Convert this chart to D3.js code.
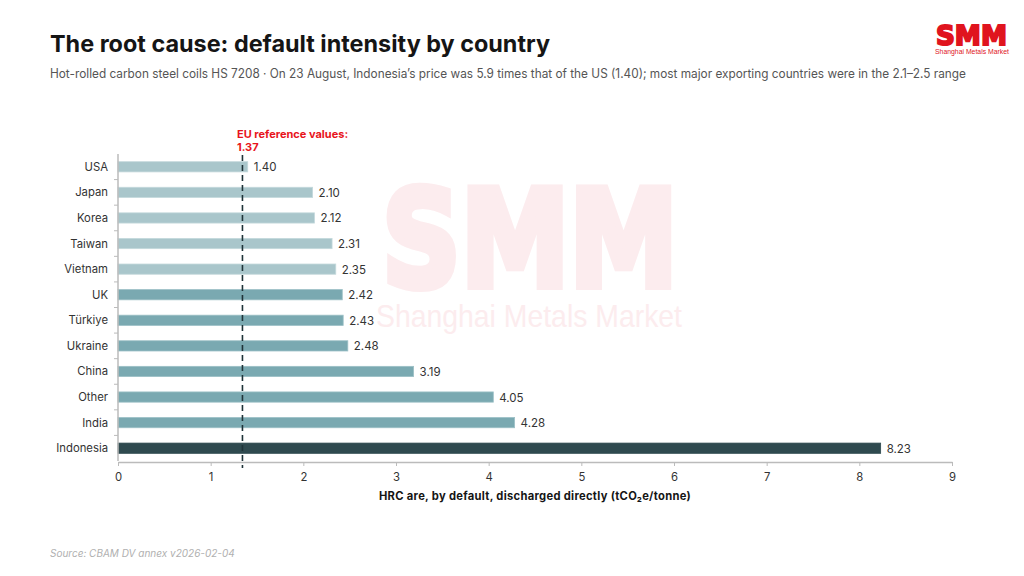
<!DOCTYPE html>
<html><head><meta charset="utf-8">
<script src="https://cdn.jsdelivr.net/npm/d3@7/dist/d3.min.js"></script>
<style>
html,body{margin:0;padding:0;background:#fff;}
svg{display:block;font-family:Inter,"Noto Sans",sans-serif;}
</style></head>
<body><svg id="c" width="1024" height="576"></svg>
<script>
const countries = ["USA","Japan","Korea","Taiwan","Vietnam","UK","Türkiye","Ukraine","China","Other","India","Indonesia"];
const values = [1.40,2.10,2.12,2.31,2.35,2.42,2.43,2.48,3.19,4.05,4.28,8.23];
const groups = ["light","light","light","light","light","mid","mid","mid","mid","mid","mid","dark"];
const xTicks = [0,1,2,3,4,5,6,7,8,9];
const refValue = 1.37;
const refLabel = ["EU reference values:", "1.37"];
const title = "The root cause: default intensity by country";
const subtitle = "Hot-rolled carbon steel coils HS 7208 · On 23 August, Indonesia’s price was 5.9 times that of the US (1.40); most major exporting countries were in the 2.1–2.5 range";
const xTitle = "HRC are, by default, discharged directly (tCO₂e/tonne)";
const source = "Source: CBAM DV annex v2026-02-04";

const colors = {light:"#a9c6cb", mid:"#7aa9b1", dark:"#2f4a4f"};
const strokes = {light:"#c4d9dc", mid:"#9cc0c6", dark:"#2f4a4f"};

const svg = d3.select("#c");

// watermark (one text element, two lines)
const wm = svg.append("text").attr("fill","#fcecee");
wm.append("tspan").attr("x",382).attr("y",286).attr("font-family","DejaVu Sans").attr("font-weight","bold")
  .attr("font-size",134).attr("textLength",296).attr("lengthAdjust","spacingAndGlyphs")
  .attr("stroke","#fcecee").attr("stroke-width",8).text("SMM");
wm.append("tspan").attr("x",376).attr("y",327).attr("font-family","Liberation Sans").attr("font-weight","normal")
  .attr("font-size",32).attr("textLength",306).attr("lengthAdjust","spacingAndGlyphs").attr("stroke","none").text("Shanghai Metals Market");

// title & subtitle
svg.append("text").attr("x",50).attr("y",52).attr("font-size",23.4).attr("font-weight",700).attr("fill","#151515").text(title);
svg.append("text").attr("x",50).attr("y",78).attr("font-size",12.5).attr("fill","#555").attr("textLength",916).attr("lengthAdjust","spacingAndGlyphs").text(subtitle);

// logo (one text element, two lines)
const logo = svg.append("text").attr("fill","#e0141e");
logo.append("tspan").attr("x",936).attr("y",45).attr("font-family","DejaVu Sans").attr("font-weight","bold")
  .attr("font-size",27).attr("textLength",71).attr("lengthAdjust","spacingAndGlyphs")
  .attr("stroke","#e0141e").attr("stroke-width",2).text("SMM");
logo.append("tspan").attr("x",935).attr("y",54).attr("font-family","Liberation Sans").attr("font-weight","normal")
  .attr("font-size",6.5).attr("textLength",74).attr("lengthAdjust","spacingAndGlyphs").attr("stroke","none").text("Shanghai Metals Market");

const x = d3.scaleLinear().domain([0,9]).range([118,952]);
const y = d3.scaleBand().domain(countries).range([154,461]).paddingInner(0.6).paddingOuter(0.3);

// bars
svg.append("g").selectAll("rect").data(countries).join("rect")
  .attr("x",x(0)).attr("y",(d)=>y(d)).attr("height",y.bandwidth())
  .attr("width",(d,i)=>x(values[i])-x(0))
  .attr("fill",(d,i)=>colors[groups[i]]).attr("stroke",(d,i)=>strokes[groups[i]]).attr("stroke-width",0.8);

// value labels
svg.append("g").selectAll("text").data(countries).join("text")
  .attr("x",(d,i)=>x(values[i])+6).attr("y",(d)=>y(d)+y.bandwidth()/2+4.5)
  .attr("font-size",11.5).attr("fill","#333").text((d,i)=>values[i].toFixed(2));

// y axis
const yBand = d3.scaleBand().domain(countries).range([154,461]);
const ya = svg.append("g").attr("transform",`translate(${x(0)},0)`);
ya.append("line").attr("x1",0).attr("x2",0).attr("y1",154).attr("y2",461).attr("stroke","#bbb").attr("stroke-width",1.5);
ya.selectAll("line.t").data(countries.slice(1)).join("line").attr("class","t")
  .attr("x1",-4).attr("x2",0).attr("y1",d=>yBand(d)).attr("y2",d=>yBand(d)).attr("stroke","#bbb");
ya.selectAll("text").data(countries).join("text")
  .attr("x",-10).attr("y",d=>y(d)+y.bandwidth()/2+4).attr("text-anchor","end")
  .attr("font-size",11.3).attr("fill","#333").text(d=>d);

// x axis
const xa = svg.append("g").attr("transform","translate(0,462)");
xa.call(d3.axisBottom(x).tickValues(xTicks).tickSize(4).tickSizeOuter(0).tickFormat(d3.format("d")));
xa.select(".domain").attr("stroke","#bbb").attr("stroke-width",1.5);
xa.selectAll(".tick line").attr("stroke","#bbb");
xa.selectAll(".tick text").attr("font-size",11.3).attr("fill","#333").attr("font-family","Inter,'Noto Sans',sans-serif").attr("dy","1.1em");
svg.append("text").attr("x",535).attr("y",500).attr("text-anchor","middle").attr("font-size",11.2).attr("font-weight",700)
  .attr("letter-spacing",0.3).attr("fill","#151515").text(xTitle);

// reference line
svg.append("line").attr("x1",x(refValue)-2.5).attr("x2",x(refValue)-2.5).attr("y1",155).attr("y2",468)
  .attr("stroke","#1e3338").attr("stroke-width",1.6).attr("stroke-dasharray","6,4");
const rl = svg.append("text").attr("x",x(refValue)-8).attr("font-size",11).attr("font-weight",700).attr("fill","#e8141c");
rl.append("tspan").attr("x",x(refValue)-8).attr("y",138).text(refLabel[0]);
rl.append("tspan").attr("x",x(refValue)-8).attr("y",151).text(refLabel[1]);

// source
svg.append("text").attr("x",50).attr("y",557).attr("font-size",10).attr("font-style","italic").attr("fill","#b0b0b0").text(source);
</script></body></html>
